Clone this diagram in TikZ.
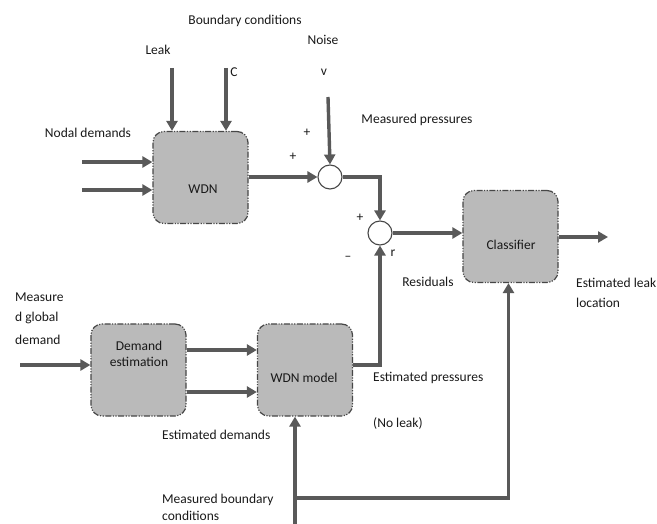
\documentclass[tikz,border=0pt]{standalone}
\usepackage{fontspec}
\setmainfont{Carlito}
\usetikzlibrary{arrows.meta}
\begin{document}
\begin{tikzpicture}[x=1pt,y=-1pt,
 blk/.style={draw=black!72, fill=black!27, rounded corners=11pt, line width=1.2pt,
   dash pattern=on 6pt off 1.5pt on 1.2pt off 1.5pt on 1.2pt off 1.5pt,
   minimum width=95pt, minimum height=92pt, inner sep=0pt},
 sj/.style={circle, draw=black!72, fill=white, line width=1.1pt, minimum size=24pt, inner sep=0pt},
 ar/.style={draw=black!65, line width=3.4pt, -{Triangle[length=10pt,width=11pt]}},
 lbl/.style={font=\fontsize{13.5}{16}\selectfont, inner sep=0pt, text=black!90}
]
\useasboundingbox (0,0) rectangle (657,524);

% blocks
\node[blk] (wdn) at (200.5,177.5) {};
\node[blk] (cls) at (510.5,236.5) {};
\node[blk] (dem) at (138.5,370) {};
\node[blk] (wm)  at (305,370) {};
\node[sj] (s1) at (330,177) {};
\node[sj] (s2) at (380,233) {};

% block texts
\node[lbl] (twdn) at (203,189) {WDN};
\node[lbl] (tcls) at (511,245) {Classifier};
\node[lbl, align=center] (tdem) at (139,354) {Demand\\estimation};
\node[lbl] (twm) at (304,378) {WDN model};

% free ends
\coordinate (nd1) at (82,162);
\coordinate (nd2) at (82,190);
\coordinate (lk) at (172,68);
\coordinate (cc) at (226,68);
\coordinate (nz) at (328,97);
\coordinate (out) at (608,237);
\coordinate (gin) at (20,365);
\coordinate (mbc) at (295,524);
\coordinate (br) at (295,498);
\coordinate (ep) at (380,365);

% connectors
\draw[ar] (nd1) -- (wdn.west |- nd1);
\draw[ar] (nd2) -- (wdn.west |- nd2);
\draw[ar] (lk) -- (lk |- wdn.north);
\draw[ar] (cc) -- (cc |- wdn.north);
\draw[ar] (nz) -- (s1.north);
\draw[ar] (wdn.east |- s1.west) -- (s1.west);
\draw[ar] (s1.east) -| (s2.north);
\draw[ar] (s2.east) -- (cls.west |- s2.east);
\draw[ar] (cls.east |- out) -- (out);
\draw[ar] (gin) -- (dem.west |- gin);
\draw[ar] ([yshift=20pt]dem.east) -- ([yshift=20pt]wm.west);
\draw[ar] ([yshift=-22pt]dem.east) -- ([yshift=-22pt]wm.west);
\draw[ar] (wm.east |- ep) -- (ep) -- (s2.south);
\draw[ar] (mbc) -- (mbc |- wm.south);
\draw[ar] (br) -| ([xshift=-2pt]cls.south);

% labels
\node[lbl] (bc) at (245,21) {Boundary conditions};
\node[lbl] (lleak) at (158,50) {Leak};
\node[lbl] (lc) at (234,72) {C};
\node[lbl] (lnoise) at (323,40) {Noise};
\node[lbl] (lv) at (324,72) {v};
\node[lbl] (lnd) at (88,133) {Nodal demands};
\node[lbl] (p1) at (307,133) {+};
\node[lbl] (p2) at (293,157) {+};
\node[lbl] (lmp) at (417,120) {Measured pressures};
\node[lbl] (p3) at (360,218) {+};
\node[lbl] (m1) at (348,258) {–};
\node[lbl] (lr) at (393,253) {r};
\node[lbl] (lres) at (428,282) {Residuals};
\node[lbl, anchor=west] (lel) at (576,283) {Estimated leak};
\node[lbl, anchor=west] (lloc) at (576,303) {location};
\node[lbl, anchor=west] (lg1) at (15,297) {Measure};
\node[lbl, anchor=west] (lg2) at (15,318) {d global};
\node[lbl, anchor=west] (lg3) at (15,340) {demand};
\node[lbl, anchor=west] (lep) at (373,378) {Estimated pressures};
\node[lbl, anchor=west] (lnl) at (373,423) {(No leak)};
\node[lbl, anchor=west] (led) at (162,435) {Estimated demands};
\node[lbl, anchor=west] (lmb) at (162,500) {Measured boundary};
\node[lbl, anchor=west] (lmc) at (162,516) {conditions};
\end{tikzpicture}
\end{document}
